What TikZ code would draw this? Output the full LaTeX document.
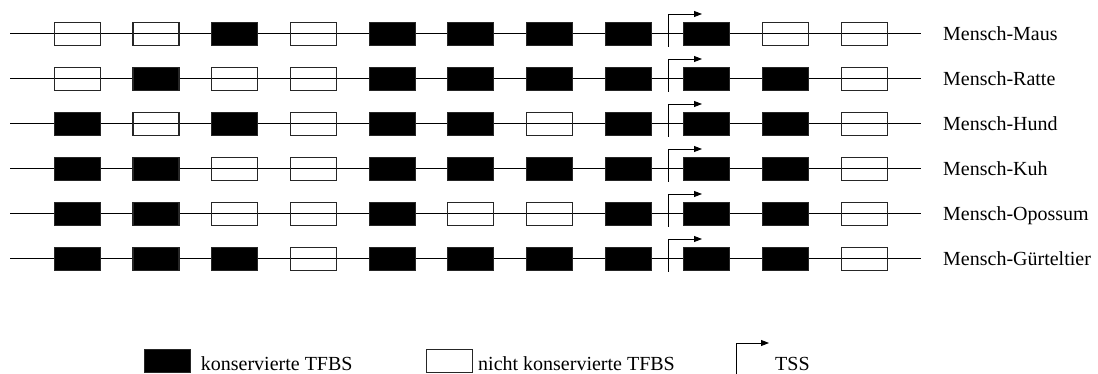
\documentclass[tikz,border=0pt]{standalone}
\usepackage{fontspec}
\setmainfont{Liberation Serif}
\usetikzlibrary{arrows.meta}
\begin{document}
\begin{tikzpicture}[x=1pt,y=-1pt,
  tfbs/.style={draw=black!85, line width=1.1pt, minimum width=46pt, minimum height=23pt, inner sep=0pt},
  s1/.style={tfbs, fill=black},
  s0/.style={tfbs},
  dna/.style={line width=1pt},
  tss/.style={line width=0.9pt, -{Triangle[length=8pt,width=6pt]}},
  lab/.style={anchor=base west, font=\fontsize{20}{24}\selectfont, inner sep=0pt}]
\useasboundingbox (0,0) rectangle (1098,374);
\foreach \pat [count=\r] in {
  {0,0,1,0,1,1,1,1,1,0,0},
  {0,1,0,0,1,1,1,1,1,1,0},
  {1,0,1,0,1,1,0,1,1,1,0},
  {1,1,0,0,1,1,1,1,1,1,0},
  {1,1,0,0,1,0,0,1,1,1,0},
  {1,1,1,0,1,1,1,1,1,1,0}} {
  \pgfmathsetmacro\y{34+45*(\r-1)}
  \coordinate (l\r) at (10,\y);
  \coordinate (r\r) at (921,\y);
  \draw[dna] (l\r) -- (r\r);
  \foreach \f [count=\i] in \pat {
    \node[s\f] (b-\r-\i) at ({77.3+78.7*(\i-1)},\y) {};
  }
  \coordinate (t\r) at (668,\y+13);
  \coordinate (a\r) at (702,\y-20);
  \draw[tss] (t\r) |- (a\r);
}
\foreach \nm [count=\r] in {Mensch-Maus,Mensch-Ratte,Mensch-Hund,Mensch-Kuh,Mensch-Opossum,Mensch-Gürteltier} {
  \pgfmathsetmacro\y{34+45*(\r-1)}
  \node[lab] (n\r) at (943,\y+6.3) {\nm};
}
\node[s1, anchor=north west] (lc) at (144,349) {};
\node[lab] (lct) at (200.7,370) {konservierte TFBS};
\node[s0, anchor=north west] (ln) at (426,349) {};
\node[lab] (lnt) at (478,370) {nicht konservierte TFBS};
\coordinate (ts) at (736,374);
\coordinate (te) at (769,343);
\draw[tss] (ts) |- (te);
\node[lab] (tsst) at (775,370) {TSS};
\end{tikzpicture}
\end{document}
